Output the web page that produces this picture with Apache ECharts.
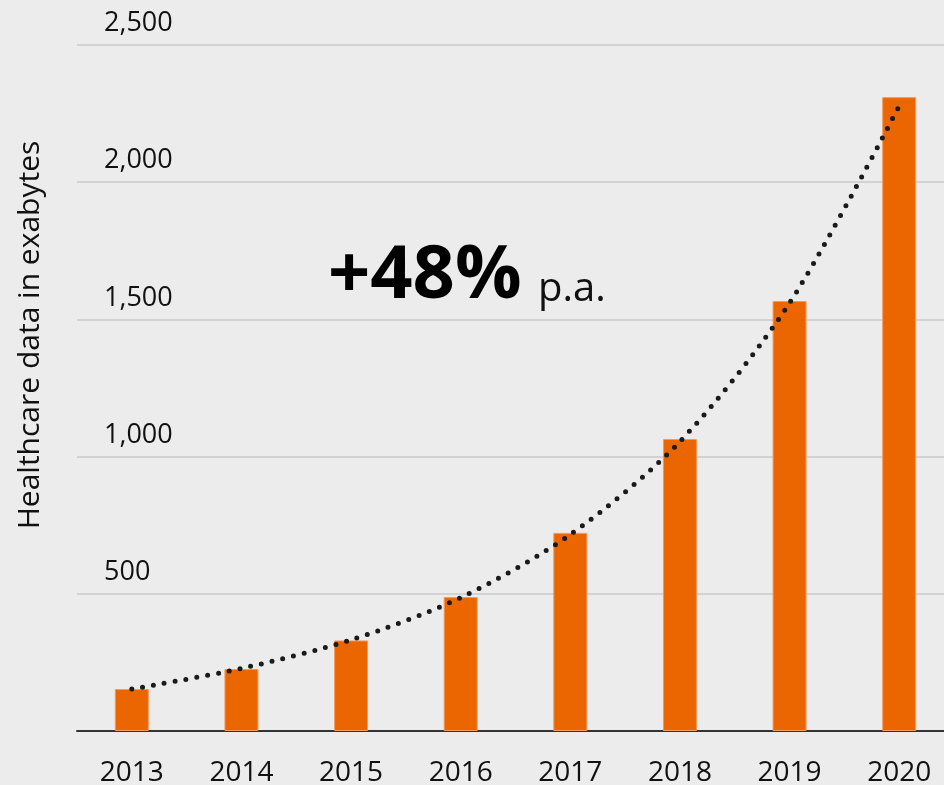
<!DOCTYPE html>
<html>
<head>
<meta charset="utf-8">
<script src="https://cdn.jsdelivr.net/npm/echarts@6/dist/echarts.min.js"></script>
<style>
  html, body { margin: 0; padding: 0; background: #ececec; }
  #chart { width: 944px; height: 785px; }
</style>
</head>
<body>
<div id="chart"></div>
<script>
const years = ['2013', '2014', '2015', '2016', '2017', '2018', '2019', '2020'];
const exabytes = [153, 226, 330, 488, 722, 1064, 1567, 2310];
const trend = [153, 228, 332, 486, 716, 1055, 1560, 2278];

const chart = echarts.init(document.getElementById('chart'));
const font = '"Open Sans", "Noto Sans", sans-serif';

const option = {
  backgroundColor: '#ececec',
  animation: false,
  textStyle: { fontFamily: font },
  grid: { left: 77, top: 45, bottom: 54, width: 877, outerBoundsMode: 'none' },
  xAxis: {
    type: 'category',
    data: years,
    axisTick: { show: false },
    axisLine: { lineStyle: { color: '#333333', width: 2 } },
    axisLabel: { color: '#111111', fontSize: 28, margin: 28, fontFamily: font }
  },
  yAxis: {
    type: 'value',
    min: 0,
    max: 2500,
    interval: 500,
    axisLine: { show: false },
    axisTick: { show: false },
    splitLine: { lineStyle: { color: '#d2d2d2', width: 2 } },
    axisLabel: {
      inside: true,
      margin: 27,
      align: 'left',
      verticalAlign: 'bottom',
      padding: [0, 0, 8, 0],
      color: '#111111',
      fontSize: 27,
      fontFamily: font,
      formatter: v => v === 0 ? '' : v.toLocaleString('en-US')
    }
  },
  graphic: [
    {
      type: 'text',
      x: 30, y: 335,
      rotation: Math.PI / 2,
      style: {
        text: 'Healthcare data in exabytes',
        fill: '#111111',
        font: '30px "Open Sans", sans-serif',
        align: 'center',
        verticalAlign: 'middle'
      }
    },
    {
      type: 'text',
      x: 328, y: 277,
      style: {
        text: '+48%',
        fill: '#000000',
        font: 'bold 74px "Open Sans", sans-serif',
        verticalAlign: 'middle'
      }
    },
    {
      type: 'text',
      x: 538, y: 290,
      style: {
        text: 'p.a.',
        fill: '#111111',
        font: '40px "Open Sans", sans-serif',
        verticalAlign: 'middle'
      }
    }
  ],
  series: [
    {
      type: 'bar',
      data: exabytes,
      barWidth: 34,
      itemStyle: { color: '#eb6600', borderColor: '#f39a5c', borderWidth: 1 }
    },
    {
      type: 'line',
      data: trend,
      smooth: 0.3,
      symbol: 'none',
      z: 5,
      lineStyle: { color: '#1a1a1a', width: 5, type: [0, 11], cap: 'round' }
    }
  ]
};

chart.setOption(option);
</script>
</body>
</html>
